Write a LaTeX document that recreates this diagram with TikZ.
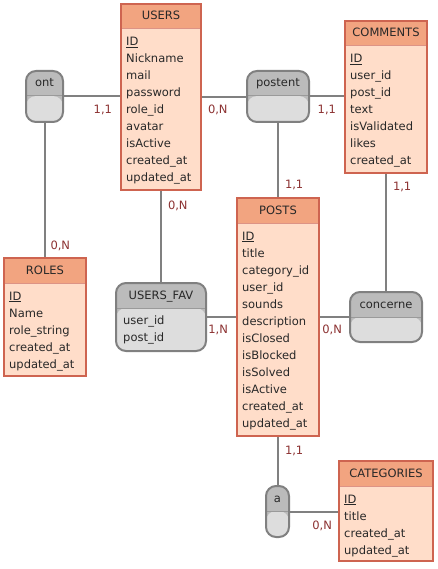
\documentclass[tikz,border=0pt]{standalone}
\usepackage{fontspec}
\setmainfont{DejaVu Sans}
\usetikzlibrary{calc}

\definecolor{enthead}{RGB}{242,164,128}
\definecolor{entbody}{RGB}{255,221,201}
\definecolor{entborder}{RGB}{206,100,80}
\definecolor{relhead}{RGB}{187,187,187}
\definecolor{relbody}{RGB}{221,221,221}
\definecolor{relborder}{RGB}{128,128,128}
\definecolor{linkcol}{RGB}{128,128,128}
\definecolor{cardcol}{RGB}{140,50,50}
\definecolor{textcol}{RGB}{40,40,40}

\tikzset{
  every node/.style={font=\fontsize{11.5}{13}\selectfont, text=textcol},
  entite/.style={draw=entborder, fill=enthead, line width=2pt, inner sep=0pt,
    path picture={
      \fill[entbody] ([yshift=-25pt]path picture bounding box.north west) rectangle (path picture bounding box.south east);
      \draw[entborder!70, line width=1pt] ([yshift=-25pt]path picture bounding box.north west) -- ([yshift=-25pt]path picture bounding box.north east);
    }},
  relation/.style={draw=relborder, fill=relhead, line width=2pt, inner sep=0pt, rounded corners=10pt,
    path picture={
      \fill[relbody] ([yshift=-25pt]path picture bounding box.north west) rectangle (path picture bounding box.south east);
      \draw[relborder!80, line width=1pt] ([yshift=-25pt]path picture bounding box.north west) -- ([yshift=-25pt]path picture bounding box.north east);
    }},
  titre/.style={inner sep=0pt, text height=9pt, text depth=3pt},
  champ/.style={anchor=west, inner sep=0pt, text height=9pt, text depth=3pt},
  lien/.style={draw=linkcol, line width=2pt},
  card/.style={inner sep=0pt, text height=8pt, text depth=0pt, text=cardcol}
}

% entity box: name, north west corner, width, height, title, fields
\newcommand{\entite}[6]{%
  \node[entite, minimum width=#3, minimum height=#4, anchor=north west] (#1) at (#2) {};
  \node[titre] at ([yshift=-14pt]#1.north) {#5};
  \foreach \f [count=\i from 0] in {#6}
    \node[champ] at ([xshift=6pt, yshift={-40-17*\i}]#1.north west) {\f};
}

% relation box: name, north west corner, width, height, title, fields
\newcommand{\relation}[6]{%
  \node[relation, minimum width=#3, minimum height=#4, anchor=north west] (#1) at (#2) {};
  \node[titre] at ([yshift=-14pt]#1.north) {#5};
  \foreach \f [count=\i from 0] in {#6}
    \node[champ] at ([xshift=8pt, yshift={-39.5-17*\i}]#1.north west) {\f};
}

\begin{document}
\begin{tikzpicture}[x=1pt, y=-1pt]
\useasboundingbox (0,0) rectangle (437,569);

% entities
\entite{users}{120,3}{80pt}{186pt}{USERS}{\underline{ID},Nickname,mail,password,role\_id,avatar,isActive,created\_at,updated\_at}
\entite{roles}{3,257}{82pt}{118pt}{ROLES}{\underline{ID},Name,role\_string,created\_at,updated\_at}
\entite{comments}{344,20}{82pt}{152pt}{COMMENTS}{\underline{ID},user\_id,post\_id,text,isValidated,likes,created\_at}
\entite{posts}{236,197}{82pt}{238pt}{POSTS}{\underline{ID},title,category\_id,user\_id,sounds,description,isClosed,isBlocked,isSolved,isActive,created\_at,updated\_at}
\entite{categories}{338,460}{94pt}{100pt}{CATEGORIES}{\underline{ID},title,created\_at,updated\_at}

% relations
\relation{ont}{25,70}{37pt}{51pt}{ont}{}
\relation{postent}{246,70}{62pt}{51pt}{postent}{}
\relation{fav}{115,282}{90pt}{68pt}{USERS\_FAV}{user\_id,post\_id}
\relation{concerne}{349,291}{72pt}{50pt}{concerne}{}
\relation{a}{265,485}{23pt}{51pt}{a}{}

% links
\draw[lien] (ont.east) -- (ont.east -| users.west)
  node[card, anchor=east, xshift=-7pt, yshift=-13pt] {1,1};
\draw[lien] (ont.south) -- (ont.south |- roles.north)
  node[card, anchor=west, xshift=5pt, yshift=12pt] {0,N};
\draw[lien] (users.east) -- (users.east -| postent.west)
  node[card, anchor=west, pos=0, xshift=5pt, yshift=-13pt] {0,N};
\draw[lien] (postent.east) -- (postent.east -| comments.west)
  node[card, anchor=east, xshift=-7pt, yshift=-13pt] {1,1};
\draw[lien] (postent.south) -- (postent.south |- posts.north)
  node[card, anchor=west, xshift=6pt, yshift=12pt] {1,1};
\draw[lien] (comments.south) -- (comments.south |- concerne.north)
  node[card, anchor=west, pos=0, xshift=6pt, yshift=-13pt] {1,1};
\draw[lien] (users.south) -- (users.south |- fav.north)
  node[card, anchor=west, pos=0, xshift=6pt, yshift=-14pt] {0,N};
\draw[lien] (fav.east) -- (fav.east -| posts.west)
  node[card, anchor=east, xshift=-7pt, yshift=-12pt] {1,N};
\draw[lien] (posts.east) -- (posts.east -| concerne.west)
  node[card, anchor=east, xshift=-6pt, yshift=-12pt] {0,N};
\draw[lien] (posts.south) -- (posts.south |- a.north)
  node[card, anchor=west, pos=0, xshift=6pt, yshift=-13pt] {1,1};
\draw[lien] (a.east) -- (a.east -| categories.west)
  node[card, anchor=east, xshift=-5pt, yshift=-13.5pt] {0,N};
\end{tikzpicture}
\end{document}
